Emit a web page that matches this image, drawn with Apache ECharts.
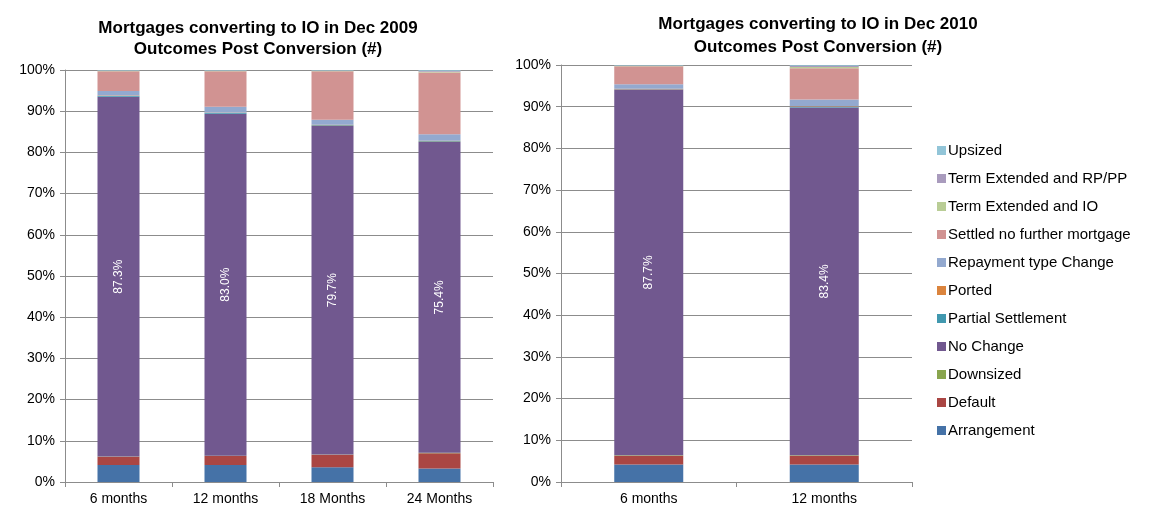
<!DOCTYPE html>
<html>
<head>
<meta charset="utf-8">
<script src="https://cdn.jsdelivr.net/npm/echarts@6/dist/echarts.min.js"></script>
<style>
  html, body { margin: 0; padding: 0; background: #fff; }
  #chart { width: 1156px; height: 511px; }
</style>
</head>
<body>
<div id="chart"></div>
<script>
// categories
var cats2009 = ['6 months', '12 months', '18 Months', '24 Months'];
var cats2010 = ['6 months', '12 months'];

// series names, stacking order bottom -> top
var seriesNames = ['Arrangement', 'Default', 'Downsized', 'No Change', 'Partial Settlement', 'Ported',
    'Repayment type Change', 'Settled no further mortgage', 'Term Extended and IO', 'Term Extended and RP/PP', 'Upsized'];
var colors = ['#4572A7', '#AA4643', '#89A54E', '#71588F', '#4198AF', '#DB843D',
    '#93A9CF', '#D19392', '#B9CD96', '#A99BBD', '#92C5D8'];

// Dec 2009 cohort (%)
var arrangement09 = [4.1, 4.1, 3.6, 3.3];
var default09 = [2.0, 2.2, 3.0, 3.7];
var downsized09 = [0.1, 0.1, 0.1, 0.1];
var noChange09 = [87.3, 83.0, 79.7, 75.4];
var partial09 = [0.2, 0.2, 0.2, 0.2];
var ported09 = [0.1, 0.1, 0.1, 0.1];
var repayment09 = [1.1, 1.4, 1.2, 1.6];
var settled09 = [4.8, 8.6, 11.8, 15.0];
var termIO09 = [0.1, 0.1, 0.1, 0.2];
var termRP09 = [0.1, 0.1, 0.1, 0.2];
var upsized09 = [0.1, 0.1, 0.1, 0.2];

// Dec 2010 cohort (%)
var arrangement10 = [4.2, 4.2];
var default10 = [2.1, 2.1];
var downsized10 = [0.1, 0.1];
var noChange10 = [87.7, 83.4];
var partial10 = [0.1, 0.2];
var ported10 = [0.1, 0.1];
var repayment10 = [1.1, 1.6];
var settled10 = [4.3, 7.5];
var termIO10 = [0.1, 0.3];
var termRP10 = [0.1, 0.3];
var upsized10 = [0.1, 0.2];

var data09 = [arrangement09, default09, downsized09, noChange09, partial09, ported09,
    repayment09, settled09, termIO09, termRP09, upsized09];
var data10 = [arrangement10, default10, downsized10, noChange10, partial10, ported10,
    repayment10, settled10, termIO10, termRP10, upsized10];

var font = 'Liberation Sans, Arial, sans-serif';
var axisGray = '#8c8c8c';

function makeSeries(idx, data, barWidth) {
    return seriesNames.map(function (name, i) {
        return {
            name: name,
            type: 'bar',
            stack: 'total' + idx,
            xAxisIndex: idx,
            yAxisIndex: idx,
            barWidth: barWidth,
            itemStyle: { color: colors[i] },
            label: {
                show: name === 'No Change',
                position: 'inside',
                rotate: 90,
                color: '#fff',
                fontFamily: font,
                fontSize: 12,
                formatter: function (p) { return p.value.toFixed(1) + '%'; }
            },
            emphasis: { disabled: true },
            data: data[i]
        };
    });
}

function xAxis(idx, cats) {
    return {
        type: 'category',
        gridIndex: idx,
        data: cats,
        axisLine: { lineStyle: { color: axisGray } },
        axisTick: { show: true, length: 5, interval: 0, lineStyle: { color: axisGray } },
        axisLabel: { color: '#000', fontFamily: font, fontSize: 14, margin: 10, interval: 0 }
    };
}

function yAxis(idx) {
    return {
        type: 'value',
        gridIndex: idx,
        min: 0,
        max: 100,
        interval: 10,
        axisLine: { show: true, lineStyle: { color: axisGray } },
        axisTick: { show: true, length: 5, lineStyle: { color: axisGray } },
        splitLine: { lineStyle: { color: axisGray } },
        axisLabel: { formatter: '{value}%', color: '#000', fontFamily: font, fontSize: 14, margin: 10 }
    };
}

var chart = echarts.init(document.getElementById('chart'));
chart.setOption({
    animation: false,
    title: [{
        text: 'Mortgages converting to IO in Dec 2009\nOutcomes Post Conversion (#)',
        left: 253,
        top: 13,
        textAlign: 'center',
        textStyle: { fontFamily: font, fontSize: 17, fontWeight: 'bold', color: '#000', lineHeight: 21 }
    }, {
        text: 'Mortgages converting to IO in Dec 2010\nOutcomes Post Conversion (#)',
        left: 813,
        top: 8,
        textAlign: 'center',
        textStyle: { fontFamily: font, fontSize: 17, fontWeight: 'bold', color: '#000', lineHeight: 23 }
    }],
    legend: {
        orient: 'vertical',
        left: 932,
        top: 138,
        itemWidth: 9,
        itemHeight: 9,
        itemGap: 13,
        icon: 'rect',
        data: seriesNames.slice().reverse(),
        textStyle: { fontFamily: font, fontSize: 15, color: '#000', padding: [0, 0, 0, -3] }
    },
    grid: [
        { left: 65, right: 663, top: 70, bottom: 29 },
        { left: 561, right: 244, top: 65, bottom: 29 }
    ],
    xAxis: [xAxis(0, cats2009), xAxis(1, cats2010)],
    yAxis: [yAxis(0), yAxis(1)],
    series: makeSeries(0, data09, 42).concat(makeSeries(1, data10, 69))
});
</script>
</body>
</html>
